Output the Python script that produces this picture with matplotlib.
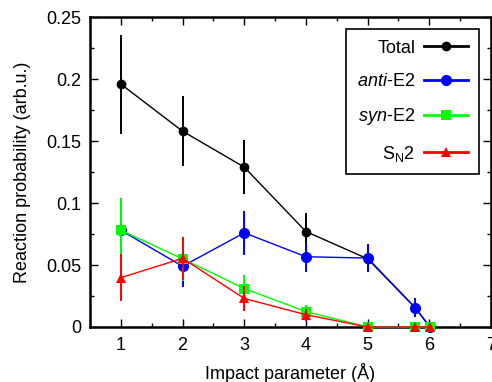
import matplotlib
matplotlib.use('Agg')
import matplotlib.pyplot as plt
from matplotlib.ticker import MultipleLocator

plt.rcParams['font.family'] = ['Liberation Sans', 'DejaVu Sans']
plt.rcParams['mathtext.fontset'] = 'custom'
plt.rcParams['mathtext.rm'] = 'Liberation Sans'
plt.rcParams['mathtext.it'] = 'Liberation Sans:italic'

# impact parameter values (Angstrom)
b = [1, 2, 3, 4, 5, 5.77, 6.01]

total = [0.196, 0.158, 0.129, 0.077, 0.055, 0.0156, 0.0]
total_err = [0.040, 0.028, 0.022, 0.015, 0.011, 0.0077, 0.0]

anti = [0.078, 0.049, 0.076, 0.0567, 0.0556, 0.0156, 0.0]
anti_err = [0.026, 0.017, 0.018, 0.012, 0.011, 0.0077, 0.0]

syn = [0.078, 0.055, 0.031, 0.0124, 0.0, 0.0, 0.0]
syn_err = [0.026, 0.018, 0.011, 0.005, 0.0, 0.0, 0.0]

sn2 = [0.0398, 0.0554, 0.023, 0.0099, 0.0, 0.0, 0.0]
sn2_err = [0.019, 0.0175, 0.010, 0.005, 0.0, 0.0, 0.0]

series = [
    ('Total', total, total_err, 'black', 'o', 7),
    (r'$\mathit{anti}$-E2', anti, anti_err, '#0000ff', 'o', 8),
    (r'$\mathit{syn}$-E2', syn, syn_err, '#00ff00', 's', 7),
    (r'S$_\mathregular{N}$2', sn2, sn2_err, '#ff0000', '^', 7),
]

fig = plt.figure(figsize=(4.92, 3.82), dpi=100)
ax = fig.add_axes([0.183, 0.144, 0.815, 0.811])

handles = []
for i, (name, y, err, col, mk, ms) in enumerate(series):
    eb = ax.errorbar(b, y, yerr=err, color=col, marker=mk, markersize=ms,
                     linewidth=1.0, elinewidth=1.4, capsize=3, capthick=1.2,
                     markeredgewidth=0, zorder=3 + i, clip_on=False)
    h, = ax.plot([], [], color=col, marker=mk, markersize=ms, linewidth=2,
                 markeredgewidth=0, label=name)
    handles.append(h)

ax.set_xlim(0.5, 7)
ax.set_ylim(0, 0.25)
ax.xaxis.set_major_locator(MultipleLocator(1))
ax.xaxis.set_minor_locator(MultipleLocator(0.5))
ax.yaxis.set_major_locator(MultipleLocator(0.05))
ax.yaxis.set_minor_locator(MultipleLocator(0.025))
ax.set_yticks([0, 0.05, 0.1, 0.15, 0.2, 0.25])
ax.set_yticklabels(['0', '0.05', '0.1', '0.15', '0.2', '0.25'])
ax.tick_params(which='both', direction='in', top=True, right=True,
               labelsize=13, width=1)
ax.tick_params(which='major', length=6)
ax.tick_params(axis='x', which='major', pad=7)
ax.tick_params(axis='y', which='major', pad=6)
ax.tick_params(which='minor', length=3)
for s in ax.spines.values():
    s.set_linewidth(1.8)

ax.set_xlabel('Impact parameter (Å)', fontsize=13, labelpad=7)
ax.set_ylabel('Reaction probability (arb.u.)', fontsize=13, labelpad=11)

leg = ax.legend(handles=handles, loc='upper right', bbox_to_anchor=(0.969, 0.962),
                borderaxespad=0, markerfirst=False, fontsize=13, handlelength=2.4,
                labelspacing=0.9, fancybox=False, framealpha=1, edgecolor='black',
                borderpad=0.6, handletextpad=0.5)
leg.get_frame().set_linewidth(1.2)
for t in leg.get_texts():
    t.set_ha('right')
leg._legend_box.align = 'right'

fig.savefig('out.png', dpi=100)
